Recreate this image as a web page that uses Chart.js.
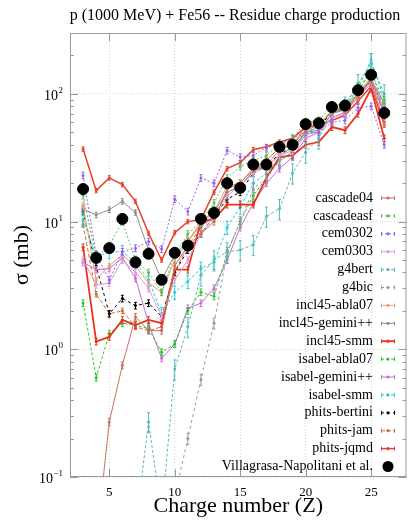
<!DOCTYPE html>
<html>
<head>
<meta charset="utf-8">
<script src="https://cdn.jsdelivr.net/npm/chart.js@4.4.0/dist/chart.umd.min.js"></script>
<style>
  html, body { margin: 0; padding: 0; background: #fff; }
  #wrap { width: 413px; height: 524px; position: relative; }
</style>
</head>
<body>
<div id="wrap"><canvas id="residueChart"></canvas></div>
<script>
// Charge number of the residue
const chargeZ = [3, 4, 5, 6, 7, 8, 9, 10, 11, 12, 13, 14, 15, 16, 17, 18, 19, 20, 21, 22, 23, 24, 25, 26];

// model cross sections (mb), Z = 3..26
const cascade04     = [0.02, 0.03, 0.27, 0.75, 1.8, 1.4, 1.4, 4.5, 6.5, 8, 10, 18, 20, 26, 30, 38, 40, 52, 57, 72, 75, 95, 125, 60];
const cascadeasf    = [16, 5.2, 6.5, 10, 5.0, 4.0, 2.8, 5.5, 8, 10, 14, 22, 27, 30, 33, 40, 45, 60, 62, 80, 85, 115, 145, 90];
const cem0302       = [23, 5.5, 3.5, 5.8, 6.2, 7.0, 6.1, 15, 12, 22, 20, 36, 32, 33, 38, 40, 45, 50, 50, 60, 62, 78, 80, 40];
const cem0303       = [5, 3.2, 3.3, 5, 4, 3, 1.8, 3.5, 5, 8, 11, 16, 19, 24, 27, 33, 36, 48, 50, 65, 70, 95, 120, 60];
const g4bert        = [0.02, 0.02, 0.02, 0.02, 0.04, 0.27, 0.05, 0.7, 1.5, 3.8, 5, 5.8, 6, 6.6, 11, 12.6, 24, 35, 45, 70, 80, 120, 175, 100];
const g4bic         = [0.02, 0.02, 0.02, 0.02, 0.02, 0.02, 0.03, 0.07, 0.2, 0.58, 1.6, 5.7, 10, 18, 22, 30, 36, 50, 55, 75, 80, 105, 130, 80];
const incl45Abla07  = [13.5, 3.5, 4.5, 5.5, 4.5, 3.3, 2.8, 5, 7, 10, 12, 19, 20, 26, 28, 36, 40, 55, 57, 75, 78, 100, 135, 75];
const incl45Gemini  = [12.5, 11.3, 12.4, 14.4, 11.8, 6, 3.5, 5.5, 7, 9.5, 12, 17, 19, 25, 27, 33, 38, 50, 52, 70, 75, 100, 130, 85];
const incl45Smm     = [6.3, 1.15, 1.25, 1.7, 1.55, 1.7, 1.6, 4.2, 4.2, 10, 10.5, 13.6, 13.6, 13.6, 22, 32, 33, 40, 42, 55, 52, 70, 110, 45];
const isabelAbla07  = [2.3, 0.6, 1.33, 1.6, 1.55, 1.45, 0.95, 1.1, 2.0, 2.8, 2.6, 5.7, 10, 16, 22, 30, 35, 48, 52, 70, 78, 105, 150, 80];
const isabelGemini  = [4.8, 4.2, 4.3, 5.2, 3.6, 1.6, 0.85, 1.1, 2.1, 2.3, 3, 5, 9, 14, 20, 26, 32, 45, 50, 65, 72, 95, 130, 70];
const isabelSmm     = [10.4, 5.3, 5.8, 5.8, 4.8, 3.5, 1.9, 2.8, 3.4, 4.3, 4.8, 9, 13, 20, 24, 30, 35, 50, 55, 75, 80, 110, 185, 90];
const phitsBertini  = [12, 4.5, 1.9, 2.5, 2.2, 2.3, 1.8, 4, 6, 8, 11, 15, 17, 24, 27, 34, 38, 50, 55, 72, 78, 100, 130, 75];
const phitsJam      = [9.5, 2.7, 1.9, 2.0, 1.5, 1.4, 1.5, 4, 6.5, 9, 11, 17, 19, 25, 28, 36, 40, 55, 56, 74, 76, 98, 128, 68];
const phitsJqmd     = [37, 17.5, 22, 19.5, 14.4, 8.1, 5.0, 8.2, 10, 10.4, 17, 26, 29, 36.6, 38.6, 42, 45, 55, 57, 62, 68, 88, 115, 57];

// Villagrasa-Napolitani et al. measurement
const expData = [18, 5.2, 6.2, 10.5, 4.8, 5.6, 3.5, 5.7, 6.5, 10.5, 11.7, 20, 18.4, 28, 28, 38.5, 40, 58, 59, 79, 81, 107, 141, 71];

// relative error bar size for each model
const modelErr = [0.06, 0.06, 0.06, 0.06, 0.18, 0.1, 0.05, 0.05, 0.06, 0.06, 0.06, 0.12, 0.06, 0.05, 0.04];

const xTicks = [5, 10, 15, 20, 25];
const yTicks = [0.1, 1, 10, 100];

const models = [
  { label: "cascade04", data: cascade04, color: "#c8735e", dash: [], width: 1 },
  { label: "cascadeasf", data: cascadeasf, color: "#5cbf5c", dash: [2, 2], width: 1 },
  { label: "cem0302", data: cem0302, color: "#9a5ff0", dash: [2, 2], width: 1 },
  { label: "cem0303", data: cem0303, color: "#dc9ddc", dash: [], width: 1 },
  { label: "g4bert", data: g4bert, color: "#55bbbb", dash: [3, 2], width: 1 },
  { label: "g4bic", data: g4bic, color: "#9a9a9a", dash: [3, 3], width: 1 },
  { label: "incl45-abla07", data: incl45Abla07, color: "#e8a070", dash: [], width: 1 },
  { label: "incl45-gemini++", data: incl45Gemini, color: "#8c8c8c", dash: [], width: 1 },
  { label: "incl45-smm", data: incl45Smm, color: "#e8341c", dash: [], width: 1.8 },
  { label: "isabel-abla07", data: isabelAbla07, color: "#28c828", dash: [3, 2], width: 1 },
  { label: "isabel-gemini++", data: isabelGemini, color: "#cc66dd", dash: [], width: 1 },
  { label: "isabel-smm", data: isabelSmm, color: "#20d0d8", dash: [3, 2], width: 1 },
  { label: "phits-bertini", data: phitsBertini, color: "#000000", dash: [3, 3], width: 1 },
  { label: "phits-jam", data: phitsJam, color: "#c8703c", dash: [4, 2], width: 1 },
  { label: "phits-jqmd", data: phitsJqmd, color: "#e8402c", dash: [], width: 1.5 },
];

const serif = "'Liberation Serif', 'DejaVu Serif', serif";

const datasets = models.map((m, i) => ({
  label: m.label,
  data: chargeZ.map((z, k) => ({ x: z, y: m.data[k] })),
  borderColor: m.color,
  backgroundColor: m.color,
  borderDash: m.dash,
  borderWidth: m.width,
  pointRadius: 1.5,
  pointBorderWidth: 0,
  tension: 0,
  errFrac: modelErr[i],
}));
datasets.push({
  label: "Villagrasa-Napolitani et al.",
  data: chargeZ.map((z, k) => ({ x: z, y: expData[k] })),
  showLine: false,
  pointRadius: 5.5,
  pointBackgroundColor: "#000",
  pointBorderColor: "#000",
  order: -1,
});

// error bars, drawn right after each model line
const errorBars = {
  id: "errorBars",
  afterDatasetDraw(chart, args) {
    const ds = chart.data.datasets[args.index];
    if (!ds.errFrac) return;
    const { ctx, chartArea: a } = chart;
    const xs = chart.scales.x, ys = chart.scales.y;
    ctx.save();
    ctx.beginPath();
    ctx.rect(a.left, a.top, a.right - a.left, a.bottom - a.top);
    ctx.clip();
    ctx.strokeStyle = ds.borderColor;
    ctx.lineWidth = 1;
    ds.data.forEach(p => {
      const px = xs.getPixelForValue(p.x);
      const hi = ys.getPixelForValue(p.y * (1 + ds.errFrac));
      const lo = ys.getPixelForValue(p.y * (1 - ds.errFrac));
      ctx.beginPath();
      ctx.moveTo(px, hi); ctx.lineTo(px, lo);
      ctx.moveTo(px - 1.5, hi); ctx.lineTo(px + 1.5, hi);
      ctx.moveTo(px - 1.5, lo); ctx.lineTo(px + 1.5, lo);
      ctx.stroke();
    });
    ctx.restore();
  },
};

// frame, ticks, y labels, title and legend
const decorations = {
  id: "decorations",
  afterDraw(chart) {
    const { ctx, chartArea: a } = chart;
    const xs = chart.scales.x, ys = chart.scales.y;
    ctx.save();
    ctx.strokeStyle = "#999";
    ctx.lineWidth = 1;
    ctx.strokeRect(a.left + 0.5, a.top + 0.5, a.right - a.left - 1, a.bottom - a.top - 1);

    // y ticks on both sides
    ctx.beginPath();
    for (let d = 0.1; d < 1000; d *= 10) {
      for (let m = 1; m < 10; m++) {
        const v = d * m;
        if (v < ys.min || v > ys.max) continue;
        const py = Math.round(ys.getPixelForValue(v)) + 0.5;
        const len = m === 1 ? 8 : 4;
        ctx.moveTo(a.left, py); ctx.lineTo(a.left + len, py);
        ctx.moveTo(a.right, py); ctx.lineTo(a.right - len, py);
      }
    }
    xTicks.forEach(v => {
      const px = Math.round(xs.getPixelForValue(v)) + 0.5;
      ctx.moveTo(px, a.bottom); ctx.lineTo(px, a.bottom - 8);
      ctx.moveTo(px, a.top); ctx.lineTo(px, a.top + 8);
    });
    ctx.stroke();

    // y labels 10^n
    ctx.fillStyle = "#000";
    ctx.textBaseline = "alphabetic";
    yTicks.forEach(v => {
      const py = ys.getPixelForValue(v);
      const exp = String(Math.round(Math.log10(v))).replace("-", "\u2212");
      ctx.font = "9px " + serif;
      const ew = ctx.measureText(exp).width;
      ctx.textAlign = "right";
      ctx.fillText(exp, 63, py - 1);
      ctx.font = "14px " + serif;
      ctx.fillText("10", 63 - ew - 0.5, py + 6);
    });

    // title
    ctx.font = "16px " + serif;
    ctx.textAlign = "center";
    ctx.fillText("p (1000 MeV) + Fe56 -- Residue charge production", 235, 20);

    // legend
    ctx.font = "14px " + serif;
    chart.data.datasets.forEach((ds, i) => {
      const ly = 198 + i * 17.9;
      ctx.textAlign = "right";
      ctx.textBaseline = "middle";
      ctx.fillStyle = "#000";
      ctx.fillText(ds.label, 373, ly);
      if (ds.errFrac) {
        ctx.strokeStyle = ds.borderColor;
        ctx.lineWidth = ds.borderWidth;
        ctx.setLineDash(ds.borderDash);
        ctx.beginPath();
        ctx.moveTo(381, ly); ctx.lineTo(395, ly);
        ctx.stroke();
        ctx.setLineDash([]);
        ctx.lineWidth = 1;
        ctx.beginPath();
        ctx.moveTo(381.5, ly - 2); ctx.lineTo(381.5, ly + 2);
        ctx.moveTo(394.5, ly - 2); ctx.lineTo(394.5, ly + 2);
        ctx.stroke();
        ctx.fillStyle = ds.borderColor;
        ctx.beginPath();
        ctx.arc(388, ly, 1.6, 0, Math.PI * 2);
        ctx.fill();
      } else {
        ctx.fillStyle = "#000";
        ctx.beginPath();
        ctx.arc(388, ly, 5.5, 0, Math.PI * 2);
        ctx.fill();
      }
    });
    ctx.restore();
  },
};

new Chart(document.getElementById("residueChart").getContext("2d"), {
  type: "line",
  data: { datasets },
  plugins: [errorBars, decorations],
  options: {
    responsive: true,
    maintainAspectRatio: false,
    animation: false,
    layout: { padding: { left: 0, right: 5, top: 33, bottom: 0 } },
    plugins: {
      legend: { display: false },
      tooltip: { enabled: false },
      title: { display: false },
    },
    scales: {
      x: {
        type: "linear",
        min: 2,
        max: 27.7,
        afterBuildTicks: s => { s.ticks = xTicks.map(v => ({ value: v })); },
        afterFit: s => { s.height = 47; },
        grid: { color: "#d4d4d4", drawTicks: false },
        border: { display: false, dash: [1, 2] },
        ticks: { font: { family: serif, size: 13 }, color: "#000", padding: 8 },
        title: {
          display: true,
          text: "Charge number (Z)",
          font: { family: serif, size: 22 },
          color: "#000",
          padding: { top: 0, bottom: 5 },
        },
      },
      y: {
        type: "logarithmic",
        min: 0.1,
        max: 300,
        afterBuildTicks: s => { s.ticks = yTicks.map(v => ({ value: v })); },
        afterFit: s => { s.width = 70; },
        grid: { color: "#d4d4d4", drawTicks: false },
        border: { display: false, dash: [1, 2] },
        ticks: { display: false },
        title: {
          display: true,
          text: "σ (mb)",
          font: { family: serif, size: 22 },
          color: "#000",
          padding: { top: 9, bottom: 0 },
        },
      },
    },
  },
});
</script>
</body>
</html>
